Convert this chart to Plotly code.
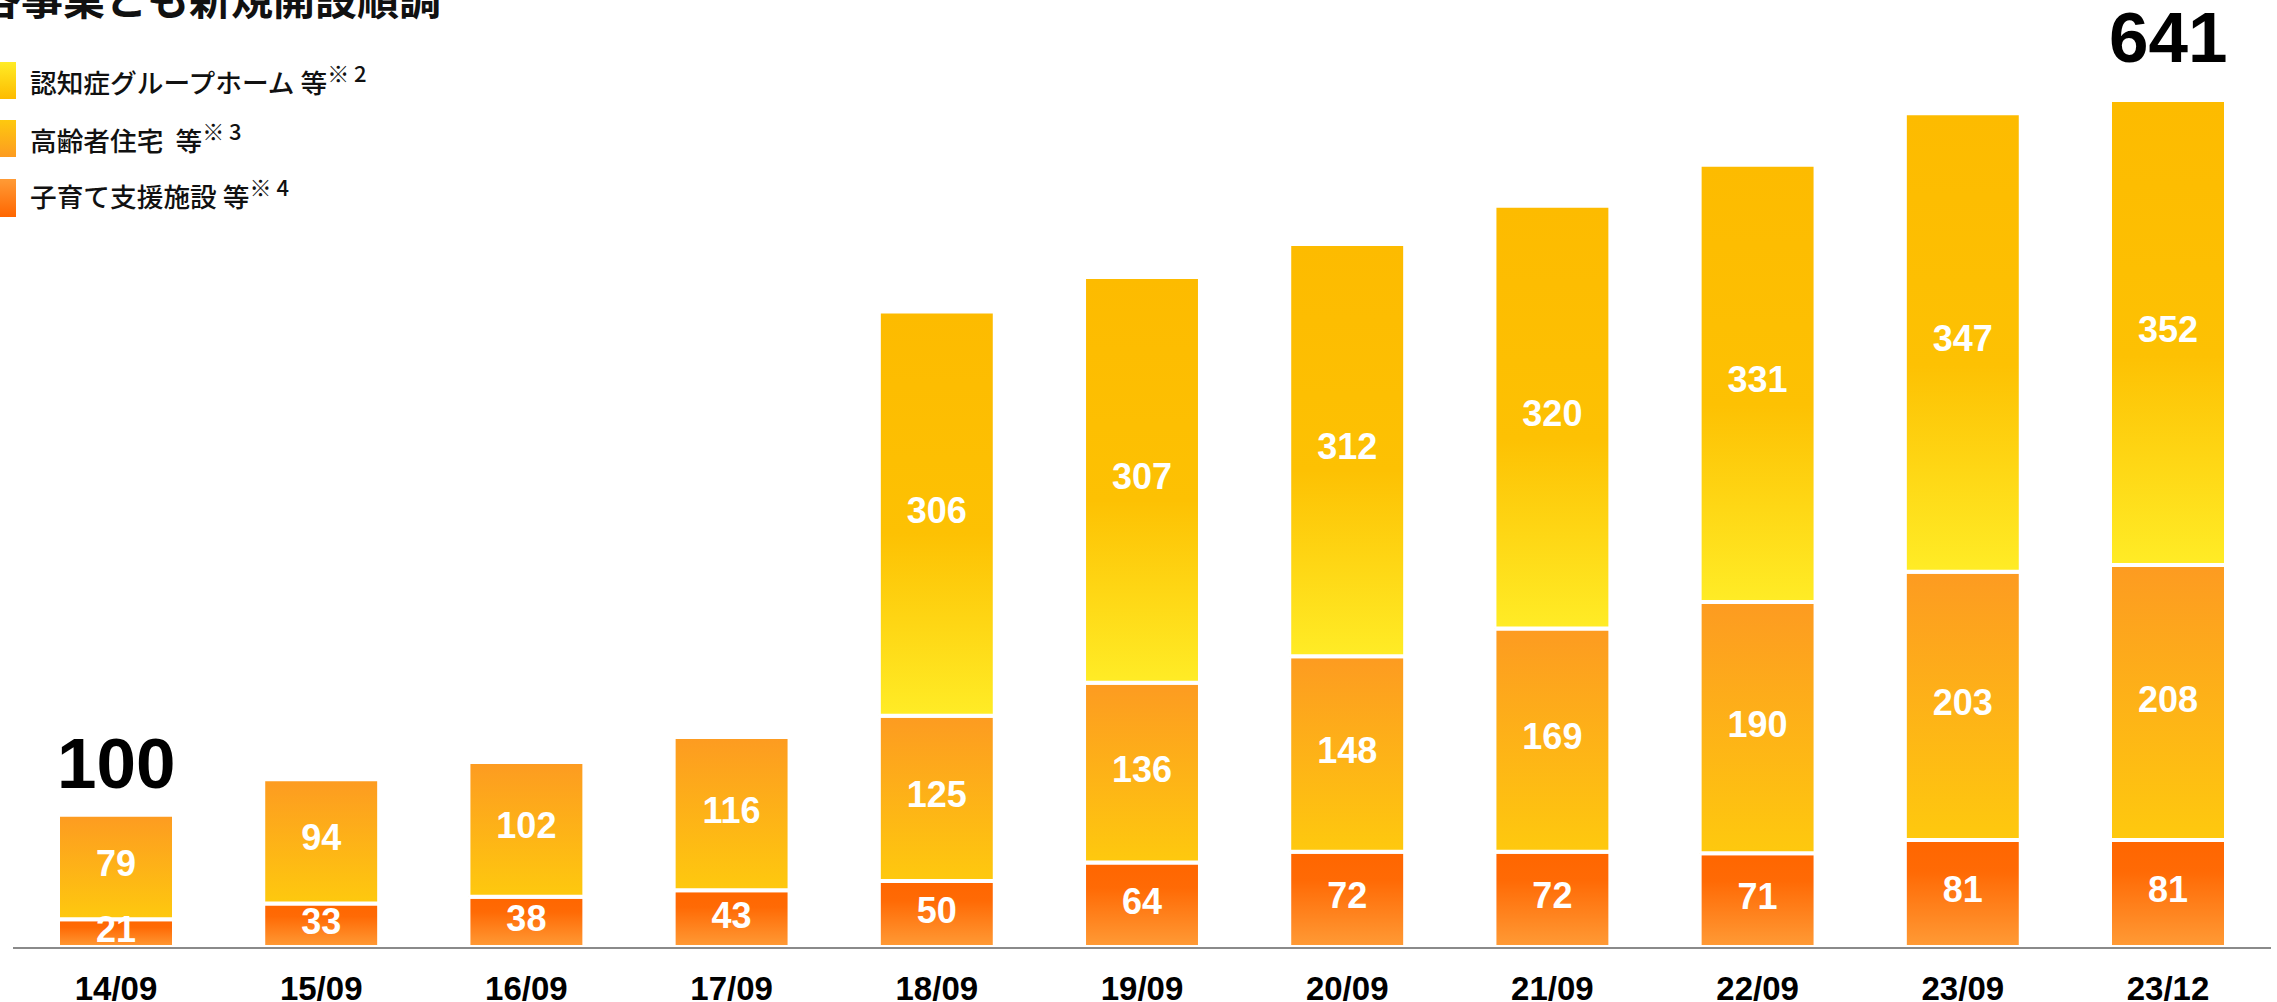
import plotly.graph_objects as go

# ---------------- data ----------------
categories = ["14/09", "15/09", "16/09", "17/09", "18/09", "19/09",
              "20/09", "21/09", "22/09", "23/09", "23/12"]
childcare = [21, 33, 38, 43, 50, 64, 72, 72, 71, 81, 81]            # 子育て支援施設 等
elderly = [79, 94, 102, 116, 125, 136, 148, 169, 190, 203, 208]      # 高齢者住宅 等
dementia = [0, 0, 0, 0, 306, 307, 312, 320, 331, 347, 352]           # 認知症グループホーム 等
legend_main = ["認知症グループホーム 等", "高齢者住宅&nbsp; 等", "子育て支援施設 等"]
legend_notes = ["※ 2", "※ 3", "※ 4"]
title_text = "各事業とも新規開設順調"
total_label_categories = ["14/09", "23/12"]

# ---------------- styles ----------------
W, H = 2277, 1002
BASE_PX = 947          # pixel row of the baseline
TOP_PX = 100           # pixel row of the tallest bar top
BAR_W = 0.565
FONT_NUM = "Liberation Sans, Arial, sans-serif"
FONT_JP = "Noto Sans CJK JP, sans-serif"

cs_red = [[0, "#FF9B36"], [0.7, "#FF6A05"], [1, "#FF6600"]]
cs_orange = [[0, "#FEC90E"], [1, "#FD9B21"]]
cs_yellow = [[0, "#FFEC26"], [0.45, "#FDC103"], [1, "#FDBB00"]]

totals = [a + b + c for a, b, c in zip(childcare, elderly, dementia)]
k = (BASE_PX - TOP_PX) / max(totals)     # px per unit
y_max = BASE_PX / k

fig = go.Figure()

series = [(childcare, cs_red), (elderly, cs_orange), (dementia, cs_yellow)]
label_x, label_y, label_t = [], [], []
for i, cat in enumerate(categories):
    base = 0
    for vals, cs in series:
        v = vals[i]
        if v:
            x0, x1 = i - BAR_W / 2, i + BAR_W / 2
            fig.add_trace(go.Scatter(
                x=[x0, x1, x1, x0, x0], y=[base, base, base + v, base + v, base],
                mode="lines", fill="toself",
                line=dict(color="white", width=4),
                fillgradient=dict(type="vertical", colorscale=cs),
                hoverinfo="skip", showlegend=False, xaxis="x", yaxis="y"))
            label_x.append(i)
            label_y.append(base + v / 2)
            label_t.append(str(v))
        base += v

fig.add_trace(go.Scatter(
    x=label_x, y=label_y, text=label_t, mode="text",
    textfont=dict(family=FONT_NUM, size=36, color="white", weight="bold"),
    hoverinfo="skip", showlegend=False, cliponaxis=False))

# legend swatches drawn on a pixel overlay axis
sw_rows = [(62, 99, cs_yellow), (120, 157, cs_orange), (179, 217, cs_red)]
for top, bot, cs in sw_rows:
    fig.add_trace(go.Scatter(
        x=[-22, 16, 16, -22, -22], y=[bot, bot, top, top, bot],
        mode="lines", fill="toself", line=dict(width=0),
        fillgradient=dict(type="vertical", colorscale=[[0, cs[-1][1]], [1, cs[0][1]]]),
        hoverinfo="skip", showlegend=False, xaxis="x2", yaxis="y2"))

annotations = []
# totals
for cat in total_label_categories:
    i = categories.index(cat)
    shift = 51 if i == 0 else 63
    annotations.append(dict(
        x=i, y=totals[i], xref="x", yref="y", text=str(totals[i]),
        showarrow=False, yanchor="middle", yshift=shift,
        font=dict(family=FONT_NUM, size=71, color="black", weight="bold")))

# title (partly clipped, as in the reference)
annotations.append(dict(
    x=-22.7 / W, y=1, xref="paper", yref="paper", text=title_text,
    showarrow=False, xanchor="left", yanchor="middle", yshift=4,
    font=dict(family=FONT_JP, size=42, color="#111111", weight="bold")))

# legend text
for main, note, yc in zip(legend_main, legend_notes, [78, 136, 193]):
    txt = main + "<sup><span style='font-size:22px'>" + note + "</span></sup>"
    annotations.append(dict(
        x=28 / W, y=1 - yc / H, xref="paper", yref="paper", text=txt,
        showarrow=False, xanchor="left", yanchor="middle",
        font=dict(family=FONT_JP, size=26.7, color="#111111", weight=500)))

fig.update_layout(
    width=W, height=H,
    margin=dict(l=0, r=0, t=0, b=0, autoexpand=False),
    paper_bgcolor="white", plot_bgcolor="rgba(0,0,0,0)",
    showlegend=False,
    xaxis=dict(
        domain=[13.4 / W, 2270.6 / W], range=[-0.5, len(categories) - 0.5],
        tickmode="array", tickvals=list(range(len(categories))), ticktext=categories,
        showgrid=False, zeroline=False, showline=True, linecolor="#8a8a8a", linewidth=2,
        ticks="", ticklabelstandoff=11, automargin=False,
        tickfont=dict(family=FONT_NUM, size=33, color="black", weight="bold"),
        fixedrange=True),
    yaxis=dict(
        domain=[(H - BASE_PX) / H, 1], range=[0, y_max], automargin=False,
        visible=False, showgrid=False, zeroline=False, fixedrange=True),
    xaxis2=dict(domain=[0, 1], range=[0, W], visible=False, anchor="y2",
                fixedrange=True, automargin=False),
    yaxis2=dict(domain=[0, 1], range=[H, 0], visible=False, anchor="x2",
                fixedrange=True, automargin=False),
    annotations=annotations,
)

fig.write_html("out.html")
